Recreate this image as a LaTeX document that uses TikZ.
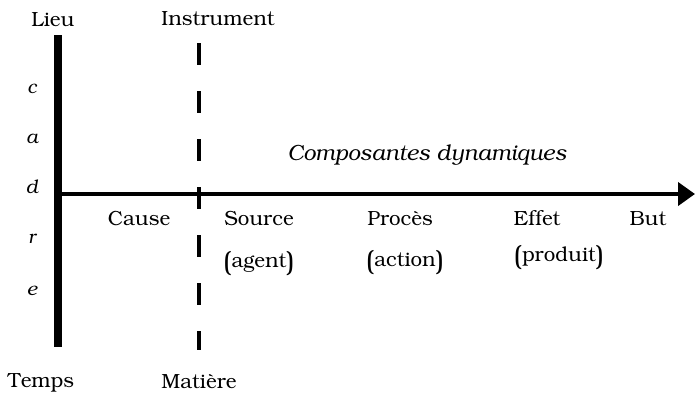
\documentclass[tikz,border=0pt]{standalone}
\usepackage[T1]{fontenc}
\usepackage{bookman}
\usetikzlibrary{arrows.meta}

\newcommand{\grand}[1]{\raisebox{-4pt}{\fontsize{28}{28}\selectfont#1}}
\newcommand{\entre}[1]{\grand{(}#1\grand{)}}

\tikzset{
  txt/.style={font=\fontsize{20.5}{24}\selectfont, inner sep=0pt, anchor=base},
  lettre/.style={txt, font=\fontsize{19}{22}\selectfont\itshape},
  cadre/.style={line width=8pt},
  axe/.style={line width=4pt, -{Triangle[length=17pt,width=23pt]}},
  tirets/.style={line width=4pt, dash pattern=on 22pt off 26pt},
}

\begin{document}
\begin{tikzpicture}[x=1pt, y=-1pt]

    \useasboundingbox (0,0) rectangle (695,392);

    % --- cadre (lieu / temps) ---
    \coordinate (haut) at (58,35);
    \coordinate (bas) at (58,347);
    \draw[cadre] (haut) -- (bas);
    \foreach \l/\y in {c/93, a/143, d/193, r/243, e/295} {
        \node[lettre] (l-\l) at (32,\y) {\l};
    }
    \node[txt] (lieu) at (53,26) {Lieu};
    \node[txt] (temps) at (41,387) {Temps};

    % --- instrument / matiere ---
    \coordinate (instr-haut) at (199,43);
    \coordinate (instr-bas) at (199,350);
    \draw[tirets] (instr-haut) -- (instr-bas);
    \node[txt] (instrument) at (218,25) {Instrument};
    \node[txt] (matiere) at (199,388) {Mati\`ere};

    % --- axe des composantes dynamiques ---
    \coordinate (origine) at (62,194);
    \coordinate (fin) at (695,194);
    \draw[axe] (origine) -- (fin);
    \node[lettre, font=\fontsize{22}{26}\selectfont\itshape]
        (composantes) at (427,160) {Composantes dynamiques};

    \node[txt] (cause) at (139,225) {Cause};
    \node[txt] (source) at (259,225) {Source};
    \node[txt] (proces) at (400,225) {Proc\`es};
    \node[txt] (effet) at (537,225) {Effet};
    \node[txt] (but) at (648,225) {But};

    \node[txt] (agent) at (259,267) {\entre{agent}};
    \node[txt] (action) at (405,266) {\entre{action}};
    \node[txt] (produit) at (559,261) {\entre{produit}};

\end{tikzpicture}
\end{document}
